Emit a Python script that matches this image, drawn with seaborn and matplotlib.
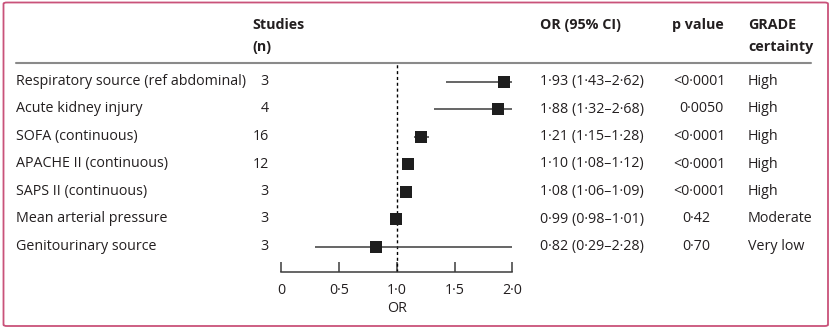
import numpy as np
import pandas as pd
import matplotlib
matplotlib.use("Agg")
import matplotlib.pyplot as plt
import matplotlib.transforms as mtransforms
from matplotlib.patches import FancyBboxPatch
from matplotlib.lines import Line2D
import seaborn as sns

# Pooled predictors of mortality
labels = [
    "Respiratory source (ref abdominal)",
    "Acute kidney injury",
    "SOFA (continuous)",
    "APACHE II (continuous)",
    "SAPS II (continuous)",
    "Mean arterial pressure",
    "Genitourinary source",
]
studies = [3, 4, 16, 12, 3, 3, 3]
odds_ratio = [1.93, 1.88, 1.21, 1.10, 1.08, 0.99, 0.82]
ci_low = [1.43, 1.32, 1.15, 1.08, 1.06, 0.98, 0.29]
ci_high = [2.62, 2.68, 1.28, 1.12, 1.09, 1.01, 2.28]
p_values = ["<0·0001", "0·0050", "<0·0001", "<0·0001", "<0·0001", "0·42", "0·70"]
grade = ["High", "High", "High", "High", "High", "Moderate", "Very low"]
x_ticks = [0, 0.5, 1.0, 1.5, 2.0]
x_tick_labels = ["0", "0·5", "1·0", "1·5", "2·0"]

df = pd.DataFrame({
    "label": labels, "n": studies, "or": odds_ratio,
    "lo": ci_low, "hi": ci_high, "p": p_values, "grade": grade,
})
df["row"] = np.arange(len(df))


def fmt(v):
    return f"{v:.2f}".replace(".", "·")


sns.set_theme(style="white")
plt.rcParams["font.family"] = ["Open Sans", "DejaVu Sans"]
TXT = "#231f20"
FS = 10.3

W, H = 830, 329
fig = plt.figure(figsize=(W / 100, H / 100), dpi=100)


def fx(px):
    return px / W


def fy(py):
    return 1 - py / H


# forest axes: 0..2 on x, rows downwards
ax_top, ax_bot = 63, 271.7
ax = fig.add_axes([fx(281.3), fy(ax_bot), fx(512.3) - fx(281.3), fy(ax_top) - fy(ax_bot)])
row_px = 27.5
first_row = 81.5
ax.set_xlim(0, 2)
ax.set_ylim((ax_bot - first_row) / row_px, (ax_top - first_row) / row_px)

ax.axvline(1.0, color="black", lw=1.0, ls=(0, (2.2, 2.0)), zorder=1)
ax.hlines(df["row"], df["lo"], df["hi"], color="#3c3c3c", lw=1.1, zorder=2)
sns.scatterplot(data=df, x="or", y="row", marker="s", s=78, color="#1e1e1e",
                linewidth=0, ax=ax, zorder=3, legend=False)

for side in ["top", "right", "left"]:
    ax.spines[side].set_visible(False)
ax.spines["bottom"].set_color("#3c3c3c")
ax.spines["bottom"].set_linewidth(1.1)
ax.set_yticks([])
ax.set_xticks(x_ticks)
ax.set_xticklabels(x_tick_labels)
ax.tick_params(axis="x", direction="in", length=7, width=1.1, color="#3c3c3c",
               labelsize=FS, labelcolor=TXT, pad=8, bottom=True)
ax.set_xlabel("OR", fontsize=FS, color=TXT, labelpad=2)
ax.set_ylabel("")

# text columns aligned with the rows
tr = mtransforms.blended_transform_factory(fig.transFigure, ax.transData)
for _, r in df.iterrows():
    y = r["row"]
    kw = dict(transform=tr, va="center", fontsize=FS, color=TXT, clip_on=False)
    ax.text(fx(16), y, r["label"], ha="left", **kw)
    ax.text(fx(268.5), y, str(r["n"]), ha="right", **kw)
    ax.text(fx(540), y, f"{fmt(r['or'])} ({fmt(r['lo'])}–{fmt(r['hi'])})", ha="left", **kw)
    px = 673 if r["p"].startswith("<") else (679 if len(r["p"]) > 4 else 682)
    ax.text(fx(px), y, r["p"], ha="left", **kw)
    ax.text(fx(748), y, r["grade"], ha="left", **kw)

# header
hk = dict(fontsize=FS, color=TXT, fontweight="bold", va="center", ha="left")
fig.text(fx(252), fy(25), "Studies", **hk)
fig.text(fx(252), fy(47), "(n)", **hk)
fig.text(fx(540), fy(25), "OR (95% CI)", **hk)
fig.text(fx(672), fy(25), "p value", **hk)
fig.text(fx(748), fy(25), "GRADE", **hk)
fig.text(fx(748), fy(47), "certainty", **hk)

fig.add_artist(Line2D([fx(16), fx(811)], [fy(63), fy(63)], color="#8a8a8a", lw=1.5,
                      transform=fig.transFigure))

# frame
fig.add_artist(FancyBboxPatch((fx(3.5), fy(326)), fx(824.5) - fx(0), fy(2.5) - fy(326),
                              boxstyle="round,pad=0,rounding_size=0.004",
                              transform=fig.transFigure, fill=False,
                              edgecolor="#c9527a", lw=1.3))

fig.savefig("out.png", dpi=100)
